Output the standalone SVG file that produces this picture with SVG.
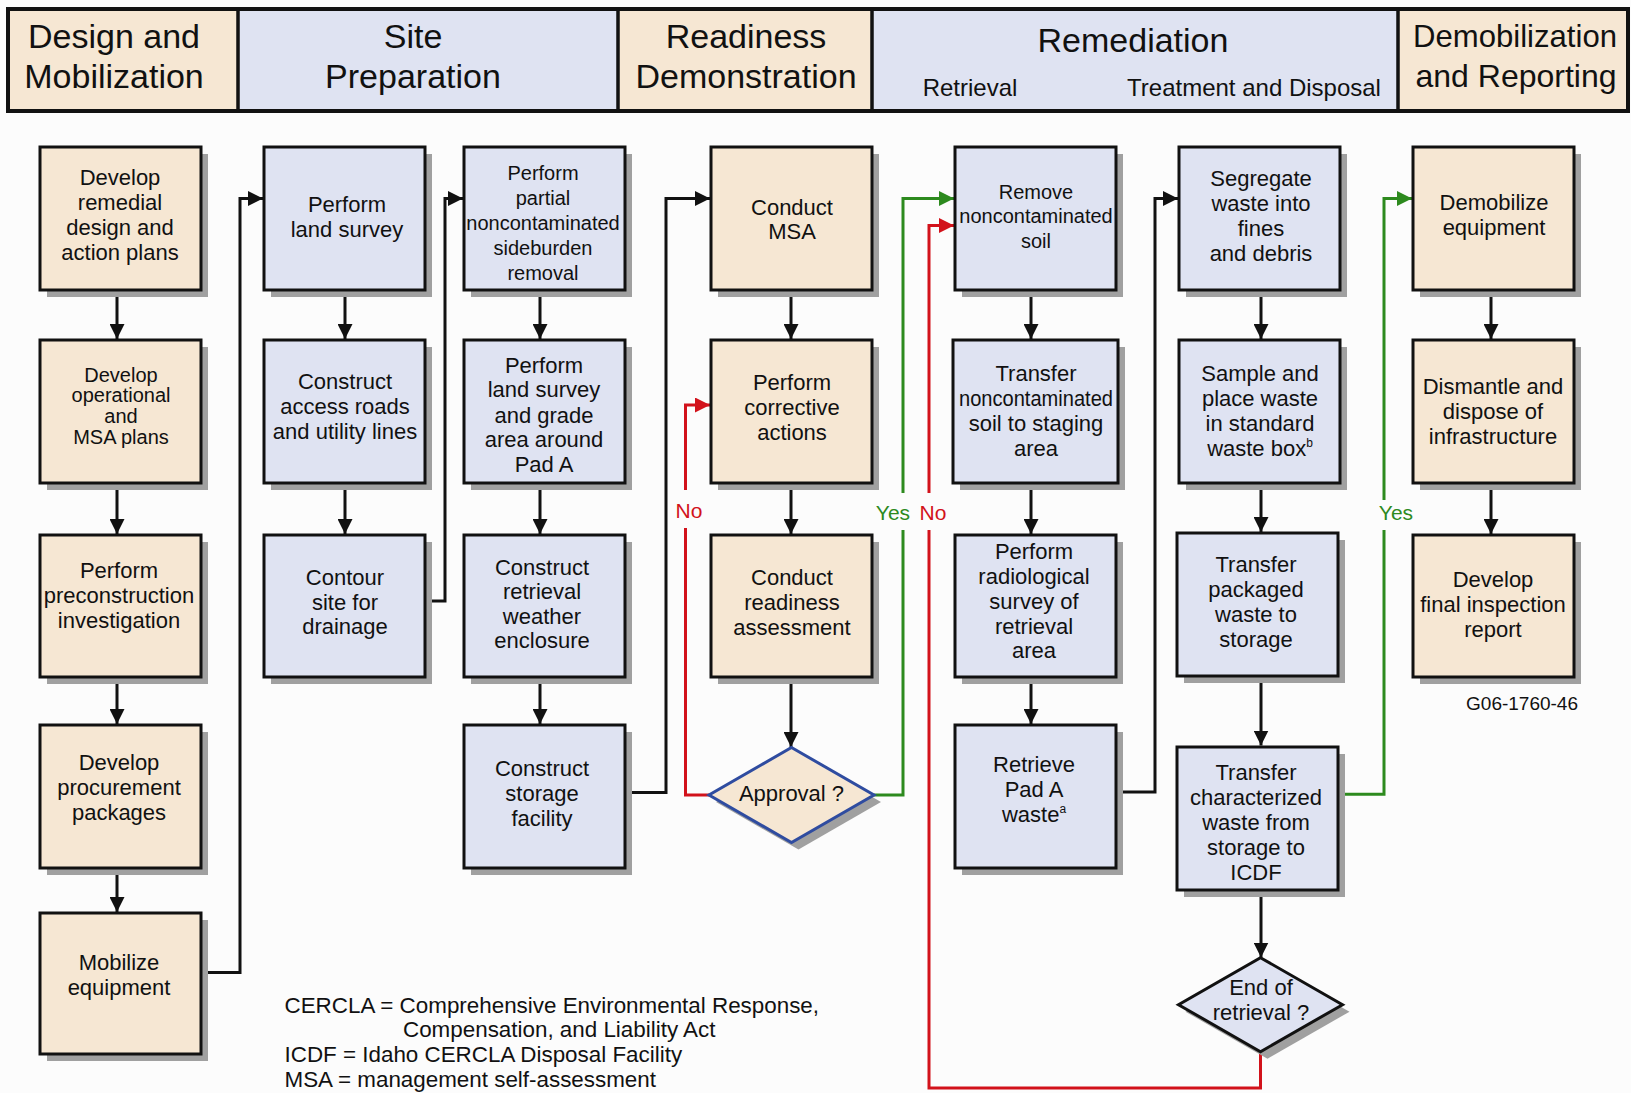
<svg xmlns="http://www.w3.org/2000/svg" width="1631" height="1093" viewBox="0 0 1631 1093">
  <style>
    text { font-family: "Liberation Sans", Arial, Helvetica, sans-serif; fill: #111; }
    .hdr { font-size: 34px; text-anchor: middle; }
    .hdr2 { font-size: 32px; text-anchor: middle; }
    .sub { font-size: 24px; text-anchor: middle; }
    .t { font-size: 22px; text-anchor: middle; }
    .s { font-size: 20px; text-anchor: middle; }
    .note { font-size: 22.4px; }
    .code { font-size: 19px; text-anchor: end; }
    .lbl { font-size: 21px; text-anchor: middle; }
    .lbl.red { fill: #d2121b; }
    .lbl.green { fill: #2d8a1e; }
    .tan { fill: #f6e7d3; }
    .lav { fill: #dfe3f2; }
    .box { stroke: #111; stroke-width: 3; }
    .dia-blue { stroke: #2f4ca0; stroke-width: 3; }
    .shadow { fill: #a0a0a0; }
    .conn { fill: none; stroke: #111; stroke-width: 3; }
    .conn.r { stroke: #d2121b; }
    .conn.g { stroke: #2d8a1e; }
    .sec { stroke: none; }
    .divider { stroke: #111; stroke-width: 3.5; }
    .sup { font-size: 12px; }
  </style>
  <defs>
    <marker id="ah-k" viewBox="0 0 15 15" refX="15" refY="7.5" markerWidth="15" markerHeight="15" markerUnits="userSpaceOnUse" orient="auto">
      <path d="M0,0 L15,7.5 L0,15 z" fill="#111"/>
    </marker>
    <marker id="ah-r" viewBox="0 0 15 15" refX="15" refY="7.5" markerWidth="15" markerHeight="15" markerUnits="userSpaceOnUse" orient="auto">
      <path d="M0,0 L15,7.5 L0,15 z" fill="#d2121b"/>
    </marker>
    <marker id="ah-g" viewBox="0 0 15 15" refX="15" refY="7.5" markerWidth="15" markerHeight="15" markerUnits="userSpaceOnUse" orient="auto">
      <path d="M0,0 L15,7.5 L0,15 z" fill="#2d8a1e"/>
    </marker>
  </defs>

  <rect x="0" y="0" width="1631" height="1093" fill="#fcfcfc"/>

  <!-- phase header band -->
  <g id="header">
    <rect class="sec tan" x="8" y="9" width="230" height="102"/>
    <rect class="sec lav" x="238" y="9" width="380" height="102"/>
    <rect class="sec tan" x="618" y="9" width="254" height="102"/>
    <rect class="sec lav" x="872" y="9" width="526" height="102"/>
    <rect class="sec tan" x="1398" y="9" width="230" height="102"/>
    <rect x="8" y="9" width="1620" height="102" fill="none" stroke="#111" stroke-width="4"/>
    <line class="divider" x1="238" y1="9" x2="238" y2="111"/>
    <line class="divider" x1="618" y1="9" x2="618" y2="111"/>
    <line class="divider" x1="872" y1="9" x2="872" y2="111"/>
    <line class="divider" x1="1398" y1="9" x2="1398" y2="111"/>
    <text class="hdr"><tspan x="114" y="48">Design and</tspan><tspan x="114" y="88">Mobilization</tspan></text>
    <text class="hdr"><tspan x="413" y="48">Site</tspan><tspan x="413" y="88">Preparation</tspan></text>
    <text class="hdr"><tspan x="746" y="48">Readiness</tspan><tspan x="746" y="88">Demonstration</tspan></text>
    <text class="hdr" x="1133" y="52">Remediation</text>
    <text class="sub" x="970" y="96">Retrieval</text>
    <text class="sub" x="1254" y="96">Treatment and Disposal</text>
    <text class="hdr2" x="1515" y="47" textLength="204" lengthAdjust="spacingAndGlyphs">Demobilization</text>
    <text class="hdr2" x="1516" y="87" textLength="201" lengthAdjust="spacingAndGlyphs">and Reporting</text>
  </g>

  <!-- connectors -->
  <g id="connectors">
    <!-- column 1 -->
    <path class="conn" d="M117,291.5 V339" marker-end="url(#ah-k)"/>
    <path class="conn" d="M117,484 V534" marker-end="url(#ah-k)"/>
    <path class="conn" d="M117,678.5 V724" marker-end="url(#ah-k)"/>
    <path class="conn" d="M117,869.5 V912" marker-end="url(#ah-k)"/>
    <path class="conn" d="M201,972.6 H240 V198.5 H263" marker-end="url(#ah-k)"/>
    <!-- column 2 -->
    <path class="conn" d="M345,291.5 V339" marker-end="url(#ah-k)"/>
    <path class="conn" d="M345,484 V534" marker-end="url(#ah-k)"/>
    <path class="conn" d="M425,601 H445 V198.5 H463" marker-end="url(#ah-k)"/>
    <!-- column 3 -->
    <path class="conn" d="M540,291.5 V339" marker-end="url(#ah-k)"/>
    <path class="conn" d="M540,484 V534" marker-end="url(#ah-k)"/>
    <path class="conn" d="M540,678.5 V724" marker-end="url(#ah-k)"/>
    <path class="conn" d="M625,792.6 H666 V198.5 H710" marker-end="url(#ah-k)"/>
    <!-- column 4 -->
    <path class="conn" d="M791,291.5 V339" marker-end="url(#ah-k)"/>
    <path class="conn" d="M791,484 V534" marker-end="url(#ah-k)"/>
    <path class="conn" d="M791,678.5 V747" marker-end="url(#ah-k)"/>
    <!-- approval: no -->
    <path class="conn r" d="M709,795 H685.5 V528"/>
    <path class="conn r" d="M685.5,490 V405 H710" marker-end="url(#ah-r)"/>
    <!-- approval: yes -->
    <path class="conn g" d="M874,795 H903 V530"/>
    <path class="conn g" d="M903,493 V198.5 H954" marker-end="url(#ah-g)"/>
    <!-- end of retrieval: no -->
    <path class="conn r" d="M1260.5,1052 V1088 H929 V530"/>
    <path class="conn r" d="M929,493 V225.5 H954" marker-end="url(#ah-r)"/>
    <!-- column 5 -->
    <path class="conn" d="M1031,291.5 V339" marker-end="url(#ah-k)"/>
    <path class="conn" d="M1031,484 V534" marker-end="url(#ah-k)"/>
    <path class="conn" d="M1031,678.5 V724" marker-end="url(#ah-k)"/>
    <path class="conn" d="M1117,792 H1155 V198.5 H1178" marker-end="url(#ah-k)"/>
    <!-- column 6 -->
    <path class="conn" d="M1261,291.5 V339" marker-end="url(#ah-k)"/>
    <path class="conn" d="M1261,484 V532" marker-end="url(#ah-k)"/>
    <path class="conn" d="M1261,677.5 V745.5" marker-end="url(#ah-k)"/>
    <path class="conn" d="M1261,891.5 V957.5" marker-end="url(#ah-k)"/>
    <!-- end of retrieval: yes -->
    <path class="conn g" d="M1339,794.3 H1384 V530"/>
    <path class="conn g" d="M1384,500 V198.5 H1412" marker-end="url(#ah-g)"/>
    <!-- column 7 -->
    <path class="conn" d="M1491,291.5 V339" marker-end="url(#ah-k)"/>
    <path class="conn" d="M1491,484 V534" marker-end="url(#ah-k)"/>

    <text class="lbl red" x="689" y="518">No</text>
    <text class="lbl green" x="893" y="520">Yes</text>
    <text class="lbl red" x="933" y="520">No</text>
    <text class="lbl green" x="1396" y="520">Yes</text>
  </g>

  <!-- design and mobilization -->
  <g id="n-remedial-design">
    <rect class="shadow" x="47" y="154" width="161" height="143"/>
    <rect class="box tan" x="40" y="147" width="161" height="143"/>
    <text class="t"><tspan x="120" y="185">Develop</tspan><tspan x="120" y="210">remedial</tspan><tspan x="120" y="235">design and</tspan><tspan x="120" y="259.5">action plans</tspan></text>
  </g>
  <g id="n-operational-plans">
    <rect class="shadow" x="47" y="347" width="161" height="143"/>
    <rect class="box tan" x="40" y="340" width="161" height="143"/>
    <text class="s"><tspan x="121" y="381.7">Develop</tspan><tspan x="121" y="402.4">operational</tspan><tspan x="121" y="423.1">and</tspan><tspan x="121" y="443.8">MSA plans</tspan></text>
  </g>
  <g id="n-preconstruction">
    <rect class="shadow" x="47" y="542" width="161" height="142"/>
    <rect class="box tan" x="40" y="535" width="161" height="142"/>
    <text class="t"><tspan x="119" y="578.3">Perform</tspan><tspan x="119" y="603.3">preconstruction</tspan><tspan x="119" y="628.3">investigation</tspan></text>
  </g>
  <g id="n-procurement">
    <rect class="shadow" x="47" y="732" width="161" height="143"/>
    <rect class="box tan" x="40" y="725" width="161" height="143"/>
    <text class="t"><tspan x="119" y="770">Develop</tspan><tspan x="119" y="795">procurement</tspan><tspan x="119" y="819.5">packages</tspan></text>
  </g>
  <g id="n-mobilize">
    <rect class="shadow" x="47" y="920" width="161" height="141"/>
    <rect class="box tan" x="40" y="913" width="161" height="141"/>
    <text class="t"><tspan x="119" y="970">Mobilize</tspan><tspan x="119" y="995">equipment</tspan></text>
  </g>

  <!-- site preparation -->
  <g id="n-land-survey">
    <rect class="shadow" x="271" y="154" width="161" height="143"/>
    <rect class="box lav" x="264" y="147" width="161" height="143"/>
    <text class="t"><tspan x="347" y="212.3">Perform</tspan><tspan x="347" y="237.3">land survey</tspan></text>
  </g>
  <g id="n-access-roads">
    <rect class="shadow" x="271" y="347" width="161" height="143"/>
    <rect class="box lav" x="264" y="340" width="161" height="143"/>
    <text class="t"><tspan x="345" y="389.3">Construct</tspan><tspan x="345" y="414">access roads</tspan><tspan x="345" y="438.5">and utility lines</tspan></text>
  </g>
  <g id="n-contour">
    <rect class="shadow" x="271" y="542" width="161" height="142"/>
    <rect class="box lav" x="264" y="535" width="161" height="142"/>
    <text class="t"><tspan x="345" y="585">Contour</tspan><tspan x="345" y="610">site for</tspan><tspan x="345" y="634">drainage</tspan></text>
  </g>
  <g id="n-sideburden">
    <rect class="shadow" x="471" y="154" width="161" height="143"/>
    <rect class="box lav" x="464" y="147" width="161" height="143"/>
    <text class="s"><tspan x="543" y="180">Perform</tspan><tspan x="543" y="205">partial</tspan><tspan x="543" y="230">noncontaminated</tspan><tspan x="543" y="255">sideburden</tspan><tspan x="543" y="280">removal</tspan></text>
  </g>
  <g id="n-grade-pad-a">
    <rect class="shadow" x="471" y="347" width="161" height="143"/>
    <rect class="box lav" x="464" y="340" width="161" height="143"/>
    <text class="t"><tspan x="544" y="372.7">Perform</tspan><tspan x="544" y="397.3">land survey</tspan><tspan x="544" y="422.7">and grade</tspan><tspan x="544" y="447.3">area around</tspan><tspan x="544" y="472.3">Pad A</tspan></text>
  </g>
  <g id="n-weather-enclosure">
    <rect class="shadow" x="471" y="542" width="161" height="142"/>
    <rect class="box lav" x="464" y="535" width="161" height="142"/>
    <text class="t"><tspan x="542" y="575">Construct</tspan><tspan x="542" y="599.3">retrieval</tspan><tspan x="542" y="624">weather</tspan><tspan x="542" y="648.3">enclosure</tspan></text>
  </g>
  <g id="n-storage-facility">
    <rect class="shadow" x="471" y="732" width="161" height="143"/>
    <rect class="box lav" x="464" y="725" width="161" height="143"/>
    <text class="t"><tspan x="542" y="776">Construct</tspan><tspan x="542" y="800.7">storage</tspan><tspan x="542" y="825.7">facility</tspan></text>
  </g>

  <!-- readiness demonstration -->
  <g id="n-conduct-msa">
    <rect class="shadow" x="718" y="154" width="161" height="143"/>
    <rect class="box tan" x="711" y="147" width="161" height="143"/>
    <text class="t"><tspan x="792" y="215">Conduct</tspan><tspan x="792" y="239.3">MSA</tspan></text>
  </g>
  <g id="n-corrective">
    <rect class="shadow" x="718" y="347" width="161" height="143"/>
    <rect class="box tan" x="711" y="340" width="161" height="143"/>
    <text class="t"><tspan x="792" y="390">Perform</tspan><tspan x="792" y="415">corrective</tspan><tspan x="792" y="440">actions</tspan></text>
  </g>
  <g id="n-readiness">
    <rect class="shadow" x="718" y="542" width="161" height="142"/>
    <rect class="box tan" x="711" y="535" width="161" height="142"/>
    <text class="t"><tspan x="792" y="585">Conduct</tspan><tspan x="792" y="610">readiness</tspan><tspan x="792" y="635">assessment</tspan></text>
  </g>
  <g id="n-approval">
    <polygon class="shadow" points="798.5,754.5 881,802 798.5,849.5 716,802"/>
    <polygon class="tan dia-blue" points="791.5,747.5 874,795 791.5,842.5 709,795"/>
    <text class="t" x="791.5" y="801">Approval ?</text>
  </g>

  <!-- retrieval -->
  <g id="n-remove-soil">
    <rect class="shadow" x="962" y="154" width="161" height="143"/>
    <rect class="box lav" x="955" y="147" width="161" height="143"/>
    <text class="s"><tspan x="1036" y="199">Remove</tspan><tspan x="1036" y="223.3">noncontaminated</tspan><tspan x="1036" y="248.3">soil</tspan></text>
  </g>
  <g id="n-transfer-soil">
    <rect class="shadow" x="960" y="347" width="165" height="143"/>
    <rect class="box lav" x="953" y="340" width="165" height="143"/>
    <text class="t"><tspan x="1036" y="381">Transfer</tspan><tspan x="1036" y="406" textLength="154" lengthAdjust="spacingAndGlyphs">noncontaminated</tspan><tspan x="1036" y="431">soil to staging</tspan><tspan x="1036" y="455.7">area</tspan></text>
  </g>
  <g id="n-radiological">
    <rect class="shadow" x="962" y="542" width="161" height="142"/>
    <rect class="box lav" x="955" y="535" width="161" height="142"/>
    <text class="t"><tspan x="1034" y="559">Perform</tspan><tspan x="1034" y="584">radiological</tspan><tspan x="1034" y="609">survey of</tspan><tspan x="1034" y="633.5">retrieval</tspan><tspan x="1034" y="658.3">area</tspan></text>
  </g>
  <g id="n-retrieve-waste">
    <rect class="shadow" x="962" y="732" width="161" height="143"/>
    <rect class="box lav" x="955" y="725" width="161" height="143"/>
    <text class="t"><tspan x="1034" y="771.5">Retrieve</tspan><tspan x="1034" y="796.5">Pad A</tspan><tspan x="1034" y="821.5">waste<tspan class="sup" dy="-9">a</tspan></tspan></text>
  </g>

  <!-- treatment and disposal -->
  <g id="n-segregate">
    <rect class="shadow" x="1186" y="154" width="161" height="143"/>
    <rect class="box lav" x="1179" y="147" width="161" height="143"/>
    <text class="t"><tspan x="1261" y="186">Segregate</tspan><tspan x="1261" y="211">waste into</tspan><tspan x="1261" y="236">fines</tspan><tspan x="1261" y="260.7">and debris</tspan></text>
  </g>
  <g id="n-sample">
    <rect class="shadow" x="1186" y="347" width="161" height="143"/>
    <rect class="box lav" x="1179" y="340" width="161" height="143"/>
    <text class="t"><tspan x="1260" y="380.7">Sample and</tspan><tspan x="1260" y="405.7">place waste</tspan><tspan x="1260" y="430.7">in standard</tspan><tspan x="1260" y="455.7">waste box<tspan class="sup" dy="-9">b</tspan></tspan></text>
  </g>
  <g id="n-transfer-packaged">
    <rect class="shadow" x="1184" y="540" width="161" height="143"/>
    <rect class="box lav" x="1177" y="533" width="161" height="143"/>
    <text class="t"><tspan x="1256" y="571.7">Transfer</tspan><tspan x="1256" y="596.7">packaged</tspan><tspan x="1256" y="621.7">waste to</tspan><tspan x="1256" y="646.7">storage</tspan></text>
  </g>
  <g id="n-transfer-icdf">
    <rect class="shadow" x="1184" y="754" width="161" height="143"/>
    <rect class="box lav" x="1177" y="747" width="161" height="143"/>
    <text class="t"><tspan x="1256" y="780">Transfer</tspan><tspan x="1256" y="805">characterized</tspan><tspan x="1256" y="830">waste from</tspan><tspan x="1256" y="855">storage to</tspan><tspan x="1256" y="880">ICDF</tspan></text>
  </g>
  <g id="n-end-of-retrieval">
    <polygon class="shadow" points="1267.5,964.7 1349.5,1011.7 1267.5,1058.7 1185.5,1011.7"/>
    <polygon class="box lav" points="1260.5,957.7 1342.5,1004.7 1260.5,1051.7 1178.5,1004.7"/>
    <text class="t"><tspan x="1261" y="995">End of</tspan><tspan x="1261" y="1020">retrieval ?</tspan></text>
  </g>

  <!-- demobilization and reporting -->
  <g id="n-demobilize">
    <rect class="shadow" x="1420" y="154" width="161" height="143"/>
    <rect class="box tan" x="1413" y="147" width="161" height="143"/>
    <text class="t"><tspan x="1494" y="210">Demobilize</tspan><tspan x="1494" y="235">equipment</tspan></text>
  </g>
  <g id="n-dismantle">
    <rect class="shadow" x="1420" y="347" width="161" height="143"/>
    <rect class="box tan" x="1413" y="340" width="161" height="143"/>
    <text class="t"><tspan x="1493" y="394.3">Dismantle and</tspan><tspan x="1493" y="419">dispose of</tspan><tspan x="1493" y="444">infrastructure</tspan></text>
  </g>
  <g id="n-final-report">
    <rect class="shadow" x="1420" y="542" width="161" height="142"/>
    <rect class="box tan" x="1413" y="535" width="161" height="142"/>
    <text class="t"><tspan x="1493" y="587.3">Develop</tspan><tspan x="1493" y="612.3">final inspection</tspan><tspan x="1493" y="637.3">report</tspan></text>
  </g>

  <text class="code" x="1578" y="710">G06-1760-46</text>

  <!-- abbreviations -->
  <g id="legend">
    <text class="note" x="284.5" y="1012.7">CERCLA = Comprehensive Environmental Response,</text>
    <text class="note" x="403" y="1037.3">Compensation, and Liability Act</text>
    <text class="note" x="284.5" y="1062.3">ICDF = Idaho CERCLA Disposal Facility</text>
    <text class="note" x="284.5" y="1086.7">MSA = management self-assessment</text>
  </g>
</svg>
